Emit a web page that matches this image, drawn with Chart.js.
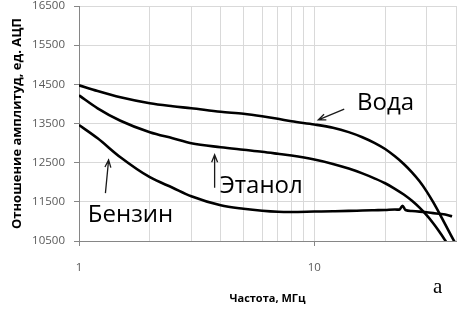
<!DOCTYPE html>
<html><head><meta charset="utf-8">
<script src="https://cdn.jsdelivr.net/npm/chart.js@4/dist/chart.umd.min.js"></script>
<style>html,body{margin:0;padding:0;background:#fff}</style>
</head><body>
<canvas id="c" width="471" height="317"></canvas>
<script>
// ---- data ----
const freq = [1,1.2,1.5,2,2.5,3,4,5,6,7,8,10,12,14,16,18,20,22,24,26,28,30,32,34,36,38,40];
const voda = [14474,14327,14168,14015,13939,13888,13798,13747,13684,13620,13556,13475,13391,13280,13150,13006,12848,12661,12465,12252,12024,11768,11491,11206,10923,10659,10409];
const etanol = [14219,13888,13569,13276,13122,12995,12893,12829,12778,12727,12681,12580,12468,12349,12226,12100,11974,11833,11686,11526,11351,11159,10954,10737,10513,10293,10085];
const freqBenzin = [1,1.2,1.5,2,2.5,3,4,5,6,7,8,10,12,14,16,18,20,22,23,23.7,24.4,26,28,30,32,34,36,38.5];
const benzin = [13462,13122,12638,12128,11860,11643,11413,11324,11273,11247,11242,11252,11260,11268,11278,11286,11293,11304,11300,11400,11290,11265,11250,11232,11212,11194,11176,11130];
const yTicks = [10500,11500,12500,13500,14500,15500,16500];
const xTicks = [1,2,3,4,5,6,7,8,9,10,20,30,40];
const xLabels = [1,10];
const seriesNames = ['Вода','Этанол','Бензин'];
const yTitle = 'Отношение амплитуд, ед. АЦП';
const xTitle = 'Частота, МГц';

// annotation placement in data units (frequency, value)
const notes = [
  {text: seriesNames[0], x: 15.2, y: 13847, from: [13.4, 13865], to: [10.4, 13592]},
  {text: seriesNames[1], x: 3.96, y: 11730, from: [3.77, 11857], to: [3.77, 12699]},
  {text: seriesNames[2], x: 1.09, y: 10977, from: [1.295, 11722], to: [1.336, 12571]}
];

const pts = (xs, ys) => xs.map((x, i) => ({x, y: ys[i]}));
const lineStyle = {borderColor: '#000', borderWidth: 2.6, pointRadius: 0, fill: false, cubicInterpolationMode: 'monotone'};

function arrow(ctx, x1, y1, x2, y2) {
  ctx.beginPath();
  ctx.moveTo(x1, y1); ctx.lineTo(x2, y2);
  const a = Math.atan2(y2 - y1, x2 - x1), L = 8, w = 0.38;
  ctx.moveTo(x2 - L * Math.cos(a - w), y2 - L * Math.sin(a - w));
  ctx.lineTo(x2, y2);
  ctx.lineTo(x2 - L * Math.cos(a + w), y2 - L * Math.sin(a + w));
  ctx.stroke();
}

const notesPlugin = {
  id: 'notes',
  afterDatasetsDraw(chart) {
    const {ctx, scales: {x, y}} = chart;
    ctx.save();
    ctx.fillStyle = '#000';
    ctx.strokeStyle = '#1a1a1a';
    ctx.lineWidth = 1.3;
    ctx.font = '24px "Open Sans"';
    ctx.textBaseline = 'alphabetic';
    ctx.textAlign = 'left';
    notes.forEach(n => {
      ctx.fillText(n.text, x.getPixelForValue(n.x), y.getPixelForValue(n.y));
      arrow(ctx, x.getPixelForValue(n.from[0]), y.getPixelForValue(n.from[1]),
                 x.getPixelForValue(n.to[0]), y.getPixelForValue(n.to[1]));
    });
    ctx.font = '21px "Liberation Serif"';
    ctx.fillText('a', chart.width - 38, 293);
    ctx.restore();
  }
};

new Chart(document.getElementById('c'), {
  type: 'line',
  data: {
    datasets: [
      Object.assign({label: seriesNames[0], data: pts(freq, voda)}, lineStyle),
      Object.assign({label: seriesNames[1], data: pts(freq, etanol)}, lineStyle),
      Object.assign({label: seriesNames[2], data: pts(freqBenzin, benzin)}, lineStyle)
    ]
  },
  options: {
    responsive: false,
    animation: false,
    layout: {padding: {left: 0, right: 15, top: 6, bottom: 0}},
    plugins: {legend: {display: false}, tooltip: {enabled: false}},
    scales: {
      x: {
        type: 'logarithmic',
        min: 1, max: 40,
        afterBuildTicks: s => { s.ticks = xTicks.map(v => ({value: v})); },
        afterFit: s => { s.height = 76; s.paddingLeft = 0; s.paddingRight = 0; },
        border: {color: '#868686', width: 1},
        grid: {
          color: '#d9d9d9',
          tickLength: 5,
          tickColor: c => xLabels.includes(c.tick && c.tick.value) ? '#868686' : 'rgba(0,0,0,0)'
        },
        ticks: {
          autoSkip: false, maxRotation: 0, padding: 15,
          color: '#595959', font: {family: 'Open Sans', size: 11.5},
          callback: v => xLabels.includes(v) ? String(v) : ''
        },
        title: {display: true, text: xTitle, color: '#000',
                font: {family: 'Open Sans', size: 11, weight: 'bold'}, padding: {top: 0, bottom: 12}}
      },
      y: {
        min: 10500, max: 16500,
        afterBuildTicks: s => { s.ticks = yTicks.map(v => ({value: v})); },
        afterFit: s => { s.width = 79; s.paddingTop = 0; s.paddingBottom = 0; },
        border: {color: '#868686', width: 1},
        grid: {color: '#d9d9d9', tickLength: 5, tickColor: '#868686'},
        ticks: {padding: 9, color: '#595959', font: {family: 'Open Sans', size: 11.5},
                callback: v => String(v)},
        title: {display: true, text: yTitle, color: '#000',
                font: {family: 'Open Sans', size: 13, weight: 'bold'}, padding: {top: 9, bottom: 0}}
      }
    }
  },
  plugins: [notesPlugin]
});
</script>
</body></html>
